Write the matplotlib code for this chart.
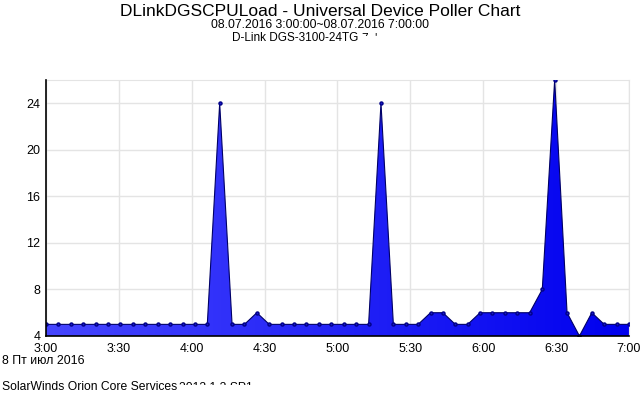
import matplotlib
matplotlib.use('Agg')
import matplotlib.pyplot as plt
import matplotlib.dates as mdates
from matplotlib.colors import LinearSegmentedColormap
from matplotlib.transforms import Bbox, TransformedBbox
import numpy as np
import datetime as dt

plt.rcParams['font.family'] = ['Liberation Sans', 'DejaVu Sans']

# poll times, minutes after 3:00 (48 samples over 4 hours)
minutes = [0.0, 5.1, 10.2, 15.3, 20.4, 25.5, 30.6, 35.7, 40.9, 46.0,
           51.1, 56.2, 61.3, 66.4, 71.5, 76.6, 81.7, 86.8, 91.9, 97.0,
           102.1, 107.2, 112.3, 117.4, 122.6, 127.7, 132.8, 137.9, 143.0, 148.1,
           153.2, 158.3, 163.4, 168.5, 173.6, 178.7, 183.8, 188.9, 194.0, 199.1,
           204.3, 209.4, 214.5, 219.6, 224.7, 229.8, 234.9, 240.0]
cpu_load = [5, 5, 5, 5, 5, 5, 5, 5, 5, 5,
            5, 5, 5, 5, 24, 5, 5, 6, 5, 5,
            5, 5, 5, 5, 5, 5, 5, 24, 5, 5,
            5, 6, 6, 5, 5, 6, 6, 6, 6, 6,
            8, 26, 6, 4, 6, 5, 5, 5]
x_ticks = ['3:00', '3:30', '4:00', '4:30', '5:00', '5:30', '6:00', '6:30', '7:00']
y_ticks = [4, 8, 12, 16, 20, 24]

start = dt.datetime(2016, 7, 8, 3, 0)
t = [start + dt.timedelta(minutes=m) for m in minutes]
tn = mdates.date2num(t)

fig = plt.figure(figsize=(6.4, 3.96), dpi=100)
ax = fig.add_axes([46/640, 1-336/396, 583/640, 256/396])

ymin, ymax = 4, 26
ax.set_xlim(tn[0], tn[-1])
ax.set_ylim(ymin, ymax)

# gradient fill under the curve
cmap = LinearSegmentedColormap.from_list('bl', ['#4646ff', '#0000ee'])
grad = np.linspace(0, 1, 256).reshape(1, -1)
img = ax.imshow(grad, cmap=cmap, aspect='auto', extent=[tn[0], tn[-1], ymin, ymax],
                origin='lower', zorder=2)
poly = ax.fill_between(tn, cpu_load, ymin, color='none', zorder=2)
img.set_clip_path(poly.get_paths()[0], transform=ax.transData)

ax.plot(tn, cpu_load, color='#000066', lw=0.8, zorder=3)
ax.plot(tn, cpu_load, ls='none', marker='o', ms=2.2, color='#1a1acc', mec='#000088', zorder=4)

ticks = [mdates.date2num(start + dt.timedelta(minutes=30*i)) for i in range(len(x_ticks))]
ax.set_xticks(ticks)
ax.set_xticklabels(x_ticks)
ax.set_yticks(y_ticks)
ax.tick_params(axis='x', length=0, labelsize=9, pad=5, colors='black')
ax.tick_params(axis='y', length=0, labelsize=9, pad=4, colors='black')
ax.grid(True, color='#e4e4e4', lw=1, zorder=1)
for s in ['top', 'right']:
    ax.spines[s].set_color('#e4e4e4')
for s in ['left', 'bottom']:
    ax.spines[s].set_color('black')
    ax.spines[s].set_linewidth(1.2)
    ax.spines[s].set_zorder(5)

fig.text(0.5, 1-11/396, 'DLinkDGSCPULoad - Universal Device Poller Chart',
         ha='center', va='center', fontsize=12.5)
fig.text(0.5, 1-25/396, '08.07.2016 3:00:00~08.07.2016 7:00:00',
         ha='center', va='center', fontsize=8.8)
fig.text(232/640, 1-38/396, 'D-Link DGS-3100-24TG', ha='left', va='center', fontsize=8.5)
fig.text(2/640, 1-361/396, '8 Пт июл 2016', ha='left', va='center', fontsize=8.9)
fig.text(2/640, 1-387/396, 'SolarWinds Orion Core Services', ha='left', va='center', fontsize=8.7)

# partly hidden texts, only their top edge shows
clip1 = TransformedBbox(Bbox([[0, 1-385/396], [1, 1-378/396]]), fig.transFigure)
vt = fig.text(179/640, 1-382/396, '2012.1.2 SP1', ha='left', va='top', fontsize=8.7)
vt.set_clip_box(clip1)
vt.set_clip_on(True)
clip2 = TransformedBbox(Bbox([[0, 1-36/396], [1, 1-30/396]]), fig.transFigure)
dt2 = fig.text(362/640, 1-33/396, '7  \'', ha='left', va='top', fontsize=8.5)
dt2.set_clip_box(clip2)
dt2.set_clip_on(True)

fig.savefig('out.png', dpi=100)
